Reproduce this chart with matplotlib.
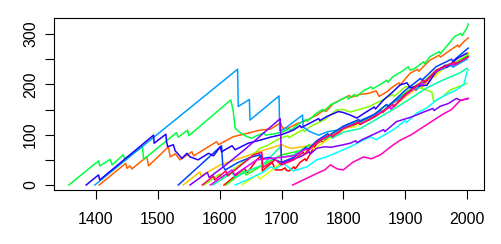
import matplotlib
matplotlib.use("Agg")
import matplotlib.pyplot as plt

plt.rcParams['font.family'] = ['Liberation Sans', 'DejaVu Sans']

# each series: list of years and list of values
green_a_yr = [1356,1404,1406,1423,1426,1444,1446,1475,1477,1530,1533,1548,1550,1618,1622,1625,1632,1644,1652,1660,1672,1674,1690,1703,1712,1714,1728,1740,1742,1757,1766,1768,1780,1790,1800,1806,1808,1818,1822,1830,1835,1845,1847,1860,1870,1872,1880,1895,1905,1908,1916,1930,1932,1940,1955,1957,1970,1980,1990,1992,2000,2002]
green_a_val = [0,48,38,51,40,60,52,76,51,104,95,109,98,169,146,113,105,96,93,98,104,99,102,106,112,108,122,130,127,143,150,146,160,165,172,176,171,180,176,185,189,195,191,200,208,204,215,226,235,228,232,245,241,255,265,261,280,295,301,297,312,320]

orange_yr = [1405,1448,1450,1455,1458,1482,1485,1517,1520,1528,1536,1555,1558,1595,1598,1622,1646,1665,1682,1698,1702,1711,1725,1740,1757,1770,1772,1784,1800,1810,1812,1827,1840,1853,1858,1870,1880,1890,1892,1908,1920,1922,1940,1955,1957,1973,1985,1987,1995,2002]
orange_val = [0,43,33,38,32,56,38,76,56,62,50,66,58,86,80,96,103,109,111,123,113,113,122,128,139,150,146,162,172,178,174,180,182,187,176,185,195,203,199,222,230,226,248,258,254,268,278,274,285,292]

violet_yr = [1384,1404,1406,1493,1494,1513,1514,1516,1525,1528,1539,1547,1552,1565,1582,1590,1601,1603,1620,1625,1646,1665,1682,1700,1719,1730,1732,1746,1760,1762,1773,1792,1800,1811,1822,1833,1850,1852,1865,1880,1892,1903,1908,1920,1935,1950,1965,1967,1985,2000]
violet_val = [0,20,10,99,83,101,86,76,80,68,53,63,56,50,63,58,76,66,78,70,83,89,95,100,109,118,114,123,132,128,136,146,144,139,133,142,155,151,169,185,199,203,193,197,198,225,238,234,252,262]

azure_yr = [1398,1629,1630,1648,1649,1696,1697,1703,1734,1735,1746,1760,1775,1790,1800,1815,1817,1830,1850,1860,1862,1875,1900,1915,1917,1950,1975,1977,2000]
azure_val = [0,230,156,170,129,177,108,110,139,115,106,99,106,109,115,124,119,130,140,148,144,160,180,193,189,225,238,234,250]

blue_yr = [1533,1603,1605,1609,1630,1650,1665,1667,1680,1700,1720,1740,1742,1757,1775,1777,1800,1825,1827,1850,1870,1872,1900,1925,1927,1950,1975,1977,2002]
blue_val = [0,78,38,30,45,55,60,52,55,45,55,75,70,88,102,98,117,130,126,140,160,156,188,212,208,235,250,246,272]

yellow_yr = [1541,1568,1570,1601,1633,1660,1700,1714,1736,1752,1773,1795,1810,1812,1830,1850,1875,1877,1900,1925,1927,1950,1975,1977,1995,2002]
yellow_val = [0,26,18,40,53,65,80,73,76,80,96,109,118,114,128,135,155,151,175,198,194,222,240,236,255,262]

purple_yr = [1552,1580,1583,1610,1640,1682,1698,1700,1715,1730,1745,1747,1757,1770,1780,1800,1811,1820,1822,1830,1853,1865,1867,1886,1910,1930,1945,1947,1956,1970,1983,1990,2002]
purple_val = [0,25,15,40,70,115,132,43,50,56,66,62,73,76,75,80,83,88,84,90,103,110,106,126,135,145,152,148,156,162,172,168,172]

purple2_yr = [1585,1620,1624,1660,1700,1720,1740,1742,1760,1780,1782,1800,1825,1827,1850,1875,1877,1900,1925,1927,1950,1975,1977,2002]
purple2_val = [0,30,20,50,55,58,72,68,88,100,96,112,125,121,136,155,151,178,202,198,226,242,238,254]

pink_yr = [1718,1735,1757,1770,1779,1790,1800,1815,1833,1845,1860,1881,1892,1910,1935,1960,1975,1989,2002]
pink_val = [0,10,23,30,40,32,30,45,56,52,60,80,89,100,120,140,150,168,172]

cyan_yr = [1625,1644,1671,1682,1690,1703,1719,1741,1757,1773,1800,1811,1827,1844,1853,1881,1900,1902,1919,1935,1951,1967,1983,1995,2000]
cyan_val = [0,10,26,36,32,43,28,36,50,56,70,76,86,96,90,110,128,124,143,153,169,180,189,200,225]

aqua_yr = [1589,1620,1625,1649,1670,1698,1700,1720,1740,1742,1757,1780,1782,1800,1827,1850,1880,1900,1935,1960,1989,2000,2002]
aqua_val = [0,25,15,30,40,76,55,60,75,71,85,97,93,105,112,128,150,165,193,208,223,232,228]

lime_yr = [1575,1600,1603,1630,1649,1665,1676,1698,1710,1712,1720,1735,1737,1746,1770,1789,1800,1811,1840,1865,1880,1882,1900,1919,1943,1946,1960,1973,2000]
lime_val = [0,22,14,38,55,73,78,93,98,94,100,110,106,116,130,149,150,145,155,170,180,176,195,195,185,166,175,189,202]

ygreen_yr = [1636,1660,1665,1690,1700,1720,1730,1750,1752,1773,1800,1815,1817,1830,1860,1880,1882,1897,1930,1945,1947,1960,1990,2002]
ygreen_val = [0,20,12,35,45,55,63,75,71,89,110,118,114,125,145,160,156,176,205,218,214,230,250,262]

green3_yr = [1610,1640,1643,1670,1700,1730,1745,1747,1760,1800,1820,1822,1850,1870,1872,1900,1920,1922,1950,1970,1972,2002]
green3_val = [0,28,20,40,60,68,80,76,88,115,126,122,140,160,156,183,200,196,228,240,236,258]

red_yr = [1607,1640,1645,1660,1668,1669,1685,1690,1700,1706,1708,1712,1720,1722,1730,1738,1740,1750,1757,1765,1767,1780,1790,1792,1800,1810,1812,1822,1833,1840,1842,1850,1862,1864,1875,1888,1890,1900,1915,1917,1930,1945,1947,1960,1975,1977,1990,2000]
red_val = [0,33,25,50,60,28,45,30,30,34,29,28,36,32,45,52,48,70,82,88,84,100,106,102,113,120,116,125,130,133,129,140,148,144,158,170,166,180,192,188,205,220,216,232,240,236,248,255]

crimson_yr = [1572,1590,1592,1610,1613,1640,1655,1668,1670,1690,1700,1720,1735,1737,1757,1780,1782,1800,1825,1827,1850,1880,1882,1900,1930,1932,1950,1980,1982,2002]
crimson_val = [0,18,10,28,18,45,60,65,35,50,40,50,65,61,85,100,96,112,124,120,135,160,156,180,208,204,228,244,240,255]

series = [
    (red_yr, red_val, '#FF0000'),
    (orange_yr, orange_val, '#FF6000'),
    (yellow_yr, yellow_val, '#FFBF00'),
    (ygreen_yr, ygreen_val, '#DFFF00'),
    (lime_yr, lime_val, '#80FF00'),
    (green3_yr, green3_val, '#20FF00'),
    (green_a_yr, green_a_val, '#00FF40'),
    (aqua_yr, aqua_val, '#00FF9F'),
    (cyan_yr, cyan_val, '#00FFFF'),
    (azure_yr, azure_val, '#009FFF'),
    (blue_yr, blue_val, '#0040FF'),
    (violet_yr, violet_val, '#2000FF'),
    (purple_yr, purple_val, '#8000FF'),
    (purple2_yr, purple2_val, '#DF00FF'),
    (pink_yr, pink_val, '#FF00BF'),
    (crimson_yr, crimson_val, '#FF0060'),
]

fig = plt.figure(figsize=(5.01, 2.44), dpi=100)
ax = fig.add_axes([54/501, 54/244, 430/501, 172/244])

for yrs, vals, col in series:
    ax.plot(yrs, vals, color=col, lw=1.1)

ax.set_xlim(1332, 2027.5)
ax.set_ylim(-9.9, 331.8)
ax.set_xticks([1400, 1500, 1600, 1700, 1800, 1900, 2000])
ax.set_yticks([0, 50, 100, 150, 200, 250, 300])
ax.set_yticklabels(['0', '', '100', '', '200', '', '300'], rotation=90, va='center')
ax.tick_params(direction='out', length=6.5, width=0.8, labelsize=11.5)
ax.tick_params(axis='x', pad=9)
ax.tick_params(axis='y', pad=5)
for s in ax.spines.values():
    s.set_linewidth(0.8)

fig.savefig('out.png', dpi=100)
